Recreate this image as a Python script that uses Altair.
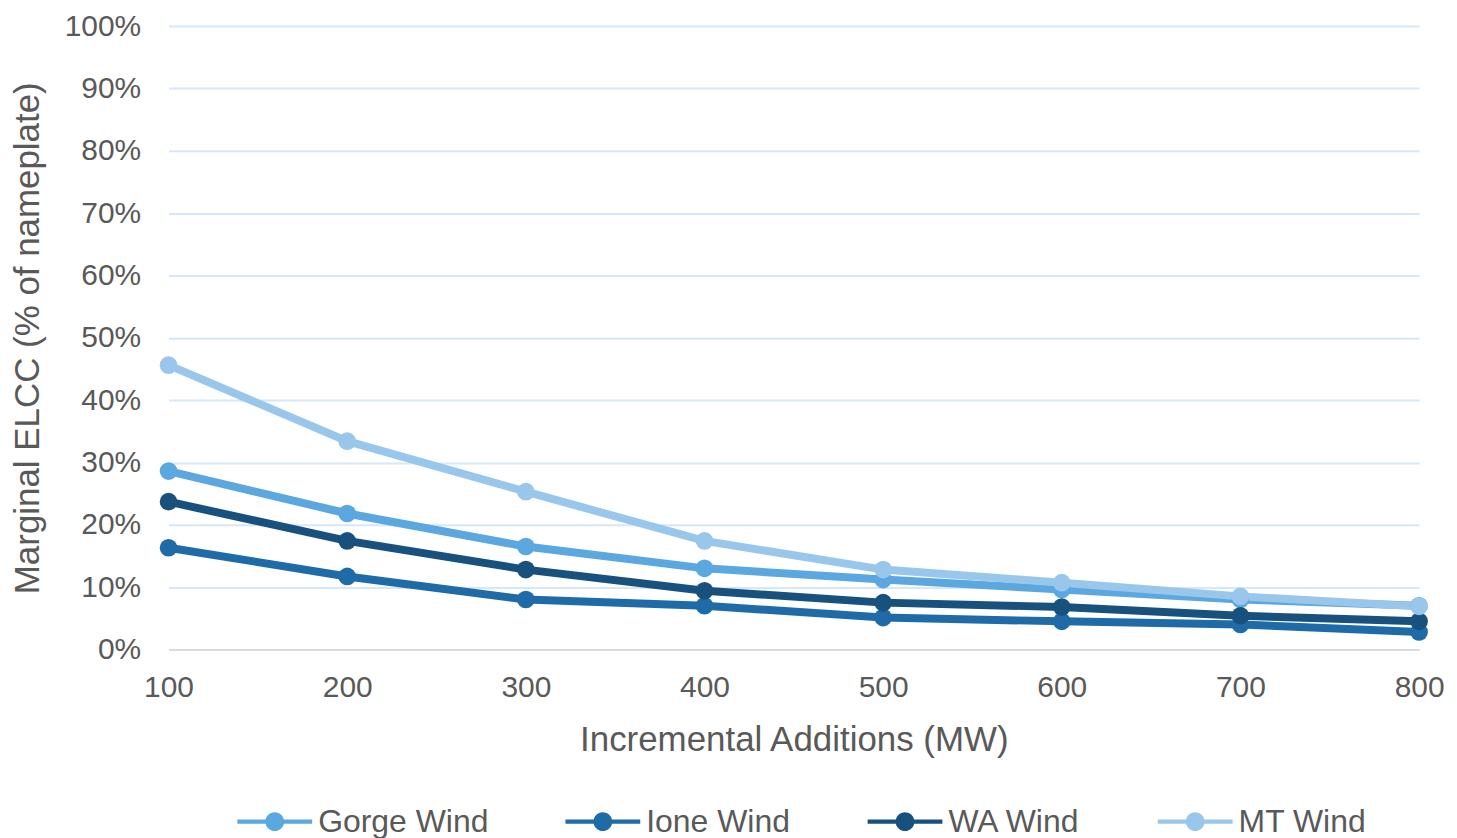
import altair as alt
import pandas as pd

additions = [100, 200, 300, 400, 500, 600, 700, 800]
series_names = ["Gorge Wind", "Ione Wind", "WA Wind", "MT Wind"]
gorge = [0.286, 0.218, 0.165, 0.130, 0.112, 0.096, 0.080, 0.070]
ione = [0.163, 0.117, 0.080, 0.070, 0.051, 0.045, 0.040, 0.028]
wa = [0.237, 0.174, 0.128, 0.094, 0.075, 0.068, 0.054, 0.045]
mt = [0.456, 0.334, 0.253, 0.174, 0.128, 0.107, 0.085, 0.069]
colors = ["#5BA7E0", "#1F6BA8", "#18507E", "#99C7EC"]
y_ticks = [0, 0.1, 0.2, 0.3, 0.4, 0.5, 0.6, 0.7, 0.8, 0.9, 1.0]

rows = []
for name, vals in zip(series_names, [gorge, ione, wa, mt]):
    for x, v in zip(additions, vals):
        rows.append({"MW": x, "ELCC": v, "Series": name,
                     "order": series_names.index(name)})
df = pd.DataFrame(rows)

FONT = "Liberation Sans"
TXT = "#595959"

legend_path = ("M-1,-0.055 L1,-0.055 L1,0.055 L-1,0.055 Z "
               "M-0.25,0 A0.25,0.25 0 1,1 0.25,0 A0.25,0.25 0 1,1 -0.25,0 Z")

x_enc = alt.X("MW:Q",
              scale=alt.Scale(domain=[100, 800], nice=False, zero=False),
              axis=alt.Axis(values=additions, title="Incremental Additions (MW)",
                            grid=False, ticks=False, domain=True,
                            domainColor="#D9D9D9", domainWidth=2,
                            labelFontSize=30, labelPadding=23,
                            titleFontSize=35, titlePadding=20,
                            labelFlush=False))
y_enc = alt.Y("ELCC:Q",
              scale=alt.Scale(domain=[0, 1], nice=False),
              axis=alt.Axis(values=y_ticks, format=".0%",
                            title="Marginal ELCC (% of nameplate)",
                            grid=True, gridColor="#D6E8F7", gridWidth=2,
                            ticks=False, domain=False,
                            labelFontSize=30, labelPadding=28,
                            titleFontSize=35, titlePadding=19))
color_enc = alt.Color("Series:N",
                      scale=alt.Scale(domain=series_names, range=colors),
                      legend=alt.Legend(title=None, orient="none",
                                        direction="horizontal",
                                        legendX=69, legendY=760,
                                        symbolType=legend_path,
                                        symbolSize=5625,
                                        symbolStrokeWidth=0,
                                        symbolOpacity=1,
                                        labelFontSize=32,
                                        labelLimit=500,
                                        labelOffset=6,
                                        columnPadding=77,
                                        padding=0))

lines = alt.Chart(df).mark_line(strokeWidth=8).encode(
    x=x_enc, y=y_enc, color=color_enc,
    order=alt.Order("order:Q"),
)
points = alt.Chart(df).mark_circle(size=314, opacity=1).encode(
    x=x_enc, y=y_enc, color=color_enc,
)

chart = alt.layer(lines, points).properties(
    width=1254, height=625,
    autosize=alt.AutoSizeParams(type="none"),
    padding={"left": 161, "top": 17, "right": 30, "bottom": 190},
).configure_view(stroke=None).configure_axis(
    labelFont=FONT, titleFont=FONT, labelColor=TXT, titleColor=TXT,
    titleFontWeight="normal",
).configure_legend(
    labelFont=FONT, labelColor=TXT,
)

chart.save("out.html", embed_options={"renderer": "svg", "actions": False})
